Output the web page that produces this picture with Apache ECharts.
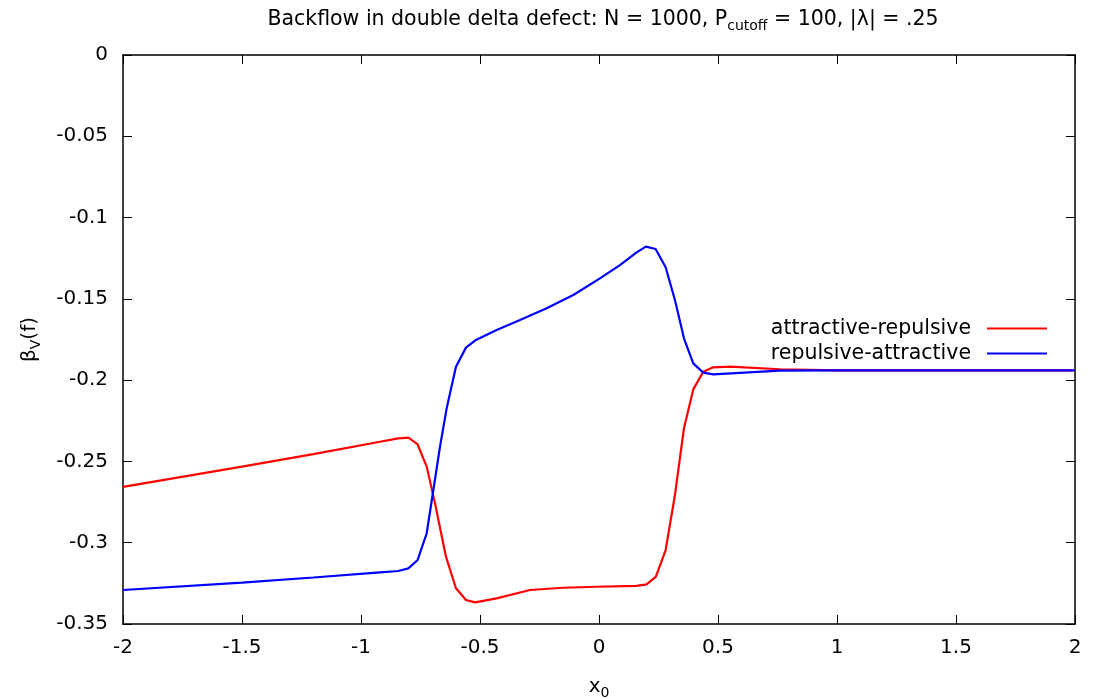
<!DOCTYPE html>
<html>
<head>
<meta charset="utf-8">
<script src="https://cdn.jsdelivr.net/npm/echarts@6/dist/echarts.min.js"></script>
<style>html,body{margin:0;padding:0;background:#fff}#c{width:1093px;height:698px}</style>
</head>
<body>
<div id="c"></div>
<script>
var xRed = [-2, -1.5, -1.2, -0.92, -0.843, -0.801, -0.763, -0.724, -0.689, -0.643, -0.601, -0.559, -0.521, -0.43, -0.29, -0.15, -0.01, 0.158, 0.2, 0.239, 0.28, 0.319, 0.357, 0.396, 0.438, 0.48, 0.55, 0.76, 1, 1.5, 2];
var yRed = [-0.2657, -0.2532, -0.2455, -0.2379, -0.2358, -0.2354, -0.2393, -0.2532, -0.2758, -0.3086, -0.328, -0.3352, -0.3367, -0.3342, -0.3291, -0.3277, -0.3271, -0.3266, -0.3256, -0.3209, -0.3045, -0.2707, -0.2296, -0.2057, -0.1948, -0.1921, -0.1917, -0.1933, -0.194, -0.194, -0.194];
var xBlue = [-2, -1.5, -1.2, -0.92, -0.843, -0.801, -0.762, -0.724, -0.696, -0.668, -0.64, -0.601, -0.559, -0.517, -0.43, -0.332, -0.22, -0.108, 0.004, 0.088, 0.158, 0.197, 0.238, 0.28, 0.319, 0.357, 0.396, 0.438, 0.48, 0.76, 1, 1.5, 2];
var yBlue = [-0.3291, -0.3245, -0.3214, -0.3182, -0.3174, -0.3158, -0.3106, -0.2942, -0.2676, -0.2409, -0.2173, -0.1917, -0.18, -0.1753, -0.1692, -0.163, -0.1558, -0.1476, -0.1374, -0.1292, -0.1214, -0.1179, -0.1193, -0.1306, -0.1507, -0.1743, -0.1897, -0.1954, -0.1964, -0.1942, -0.194, -0.194, -0.194];
var xTicks = [-2, -1.5, -1, -0.5, 0, 0.5, 1, 1.5, 2];
var yTicks = [0, -0.05, -0.1, -0.15, -0.2, -0.25, -0.3, -0.35];
var seriesNames = ['attractive-repulsive', 'repulsive-attractive'];

function pairs(xs, ys) { return xs.map(function (x, i) { return [x, ys[i]]; }); }

var FONT = 'DejaVu Sans';
var FS = 20, SUB = 14;
var chart = echarts.init(document.getElementById('c'), null, { renderer: 'canvas' });
var tickCommon = { show: true, inside: true, length: 9, lineStyle: { color: '#000', width: 1 } };
var lineCommon = { show: true, onZero: false, lineStyle: { color: '#000', width: 1.5 } };
var subRich = { s: { fontFamily: FONT, fontSize: SUB, color: '#000', padding: [12, 0, 0, 0] } };
function legendFor(name, top) {
  return {
    data: [name], orient: 'vertical', right: 46, top: top, align: 'right', padding: 0,
    icon: 'rect', itemWidth: 60, itemHeight: 2,
    textStyle: { fontFamily: FONT, fontSize: 20.5, color: '#000', padding: [0, 11, 0, 0] }
  };
}
chart.setOption({
  animation: false,
  backgroundColor: '#fff',
  textStyle: { fontFamily: FONT },
  title: {
    text: 'Backflow in double delta defect: N = 1000, P{s|cutoff} = 100, |λ| = .25',
    left: 598, top: 2, textAlign: 'center',
    textStyle: { fontFamily: FONT, fontSize: 20.5, fontWeight: 'normal', color: '#000', rich: subRich }
  },
  legend: [legendFor(seriesNames[0], 318), legendFor(seriesNames[1], 343)],
  grid: { left: 123, right: 18, top: 55, bottom: 74, containLabel: false, outerBoundsMode: 'none' },
  xAxis: [
    {
      type: 'value', min: -2, max: 2, interval: 0.5, position: 'bottom',
      name: 'x{s|0}', nameLocation: 'middle', nameGap: 50,
      nameTextStyle: { fontFamily: FONT, fontSize: FS, color: '#000', rich: subRich },
      axisLine: lineCommon, axisTick: tickCommon,
      axisLabel: { fontFamily: FONT, fontSize: FS, color: '#000', margin: 14 },
      splitLine: { show: false }
    },
    {
      type: 'value', min: -2, max: 2, interval: 0.5, position: 'top',
      axisLine: lineCommon, axisTick: tickCommon, axisLabel: { show: false }, splitLine: { show: false }
    }
  ],
  yAxis: [
    {
      type: 'value', min: -0.35, max: 0, interval: 0.05, position: 'left',
      name: 'β{s|V}(f)', nameLocation: 'middle', nameGap: 80, nameRotate: 90,
      nameTextStyle: { fontFamily: FONT, fontSize: FS, color: '#000', rich: subRich },
      axisLine: lineCommon, axisTick: tickCommon,
      axisLabel: { fontFamily: FONT, fontSize: FS, color: '#000', margin: 15 },
      splitLine: { show: false }
    },
    {
      type: 'value', min: -0.35, max: 0, interval: 0.05, position: 'right',
      axisLine: lineCommon, axisTick: tickCommon, axisLabel: { show: false }, splitLine: { show: false }
    }
  ],
  series: [
    {
      name: seriesNames[0], type: 'line', data: pairs(xRed, yRed), showSymbol: false, symbol: 'none',
      color: '#ff0000', lineStyle: { color: '#ff0000', width: 2.2 }, smooth: false
    },
    {
      name: seriesNames[1], type: 'line', data: pairs(xBlue, yBlue), showSymbol: false, symbol: 'none',
      color: '#0000ff', lineStyle: { color: '#0000ff', width: 2.2 }, smooth: false
    }
  ]
});
</script>
</body>
</html>
